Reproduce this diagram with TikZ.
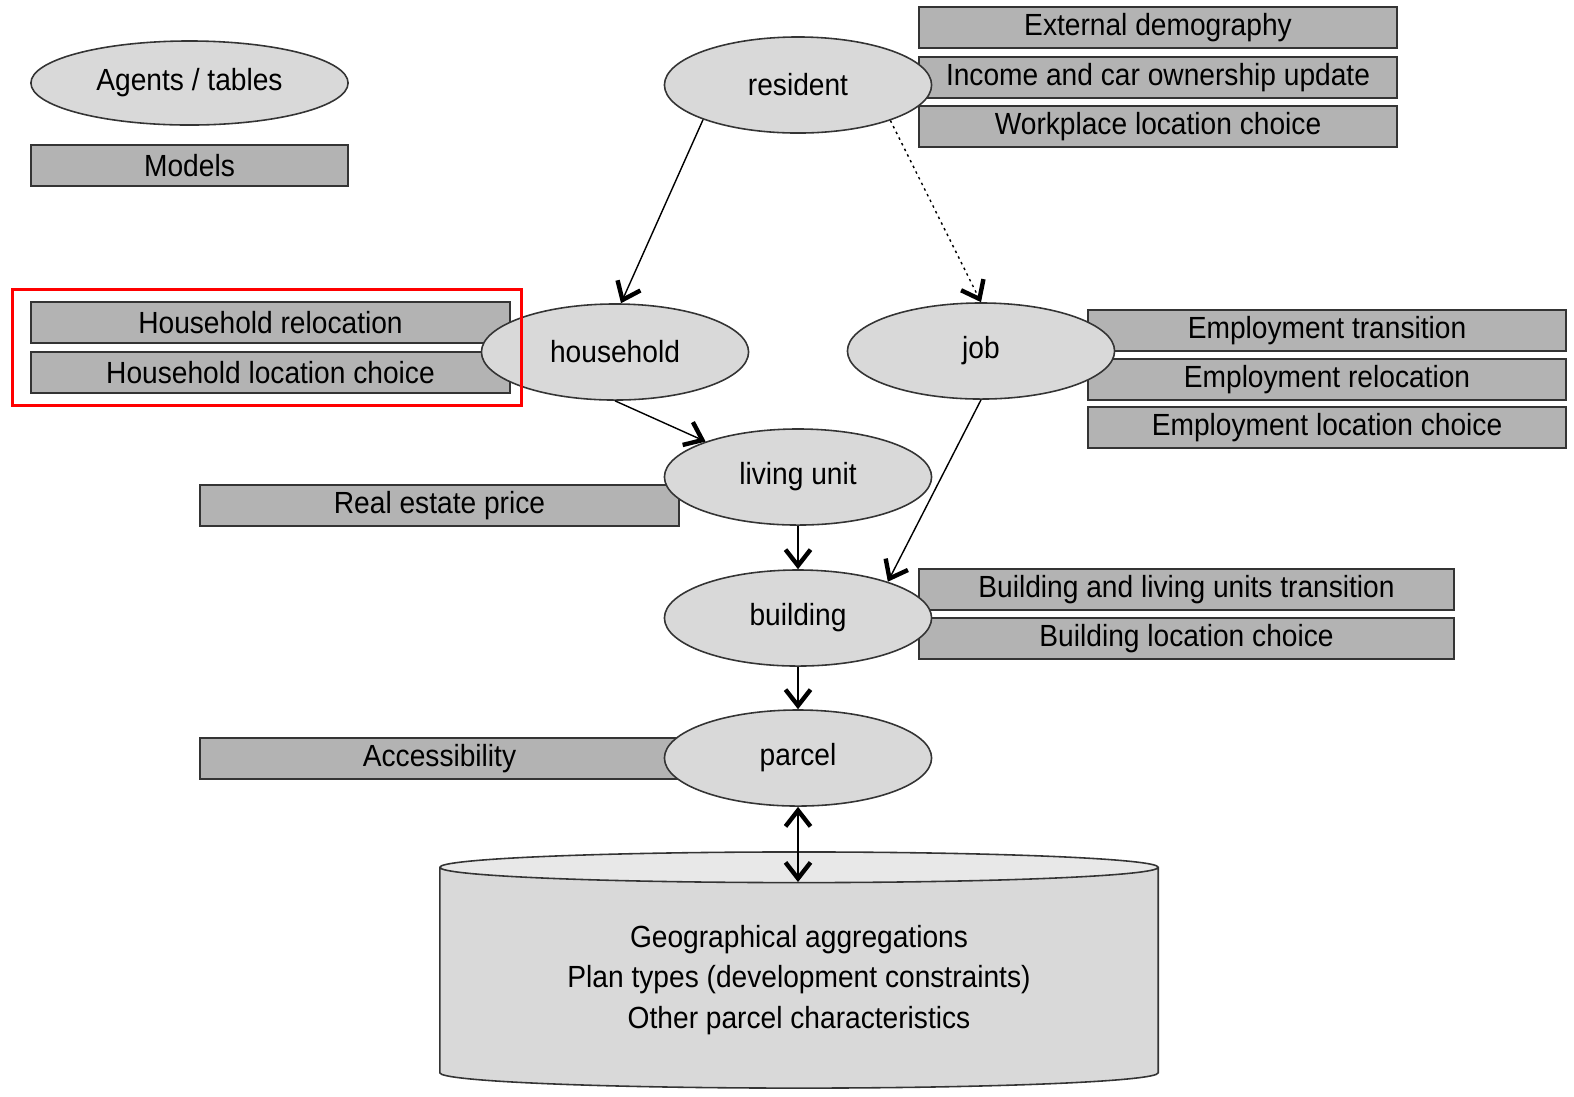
\documentclass[tikz,border=0pt]{standalone}
\usepackage{fontspec}
\setmainfont{Liberation Sans}[FakeStretch=0.92]
\usepackage{tikz}
\usetikzlibrary{shapes.geometric, arrows.meta, positioning, fit}
\definecolor{agentgray}{RGB}{217, 217, 217}
\definecolor{modelgray}{RGB}{179, 179, 179}
\definecolor{edgegray}{RGB}{52, 52, 52}
\definecolor{topgray}{RGB}{232, 232, 232}
\definecolor{focusred}{RGB}{255, 0, 0}

\begin{document}
\begin{tikzpicture}[
    x=0.01cm, y=-0.01cm,
    font=\fontsize{8.7}{11.6}\selectfont,
    agent/.style={ellipse, draw=edgegray, fill=agentgray, line width=0.45pt,
                  minimum width=2.67cm, minimum height=0.96cm, inner sep=0pt},
    model/.style={draw=edgegray, fill=modelgray, line width=0.45pt,
                  minimum width=#1, minimum height=0.41cm, inner sep=0pt},
    barb/.tip={Straight Barb[length=0.16cm, width=0.25cm, line width=1.25pt]},
    flow/.style={-barb, line width=0.4pt, black},
    flowboth/.style={barb-barb, line width=0.4pt, black}
]
    \useasboundingbox (0,0) rectangle (1574,1096);

    % legend
    \node[model=3.17cm] (legmodel) at (189.5,165.5) {Models};
    \node[agent, minimum width=3.17cm, minimum height=0.84cm] (legagent) at (189.5,83) {Agents / tables};

    % models (drawn below the agents)
    \node[model=4.78cm] (extdemo) at (1158,27.5) {External demography};
    \node[model=4.78cm] (incomecar) at (1158,77.5) {Income and car ownership update};
    \node[model=4.78cm] (workplace) at (1158,126.5) {Workplace location choice};
    \node[model=4.79cm] (hhreloc) at (270.5,322.5) {Household relocation};
    \node[model=4.79cm] (hhloc) at (270.5,372.5) {Household location choice};
    \node[model=4.78cm] (emptrans) at (1327,330.5) {Employment transition};
    \node[model=4.78cm] (empreloc) at (1327,379.5) {Employment relocation};
    \node[model=4.78cm] (emploc) at (1327,427.5) {Employment location choice};
    \node[model=4.79cm] (realestate) at (439.5,505.5) {Real estate price};
    \node[model=5.35cm] (bldtrans) at (1186.5,589.5) {Building and living units transition};
    \node[model=5.35cm] (bldloc) at (1186.5,638.5) {Building location choice};
    \node[model=4.79cm] (access) at (439.5,758.5) {Accessibility};

    % agents
    \node[agent] (resident) at (798,85) {resident};
    \node[agent] (household) at (615,352) {household};
    \node[agent] (job) at (981,351) {job};
    \node[agent] (living) at (798,477) {living unit};
    \node[agent] (building) at (798,618) {building};
    \node[agent] (parcel) at (798,758) {parcel};

    % parcel data
    \node[cylinder, shape border rotate=90, draw=edgegray, line width=0.45pt,
          cylinder uses custom fill, cylinder body fill=agentgray, cylinder end fill=topgray,
          minimum width=7.18cm, minimum height=2.36cm, aspect=0.063, align=center,
          anchor=shape center] (db) at (799,970)
          {Geographical aggregations\\Plan types (development constraints)\\Other parcel characteristics};
    \coordinate (dbtop) at (798,882);

    % connectors
    \draw[flow] (resident.200) -- (household.83);
    \draw[flow, dash pattern=on 0.7pt off 1.1pt] (resident.339) -- (job.north);
    \draw[flow] (household.south) -- (living.159);
    \draw[flow] (job.south) -- (building.22);
    \draw[flow] (living) -- (building);
    \draw[flow] (building) -- (parcel);
    \draw[flowboth] (parcel) -- (dbtop);

    % highlight
    \node[draw=focusred, line width=0.85pt, fit=(hhreloc)(hhloc),
          inner xsep=0.145cm, inner ysep=0.12cm, xshift=-0.035cm] (focus) {};
\end{tikzpicture}
\end{document}
